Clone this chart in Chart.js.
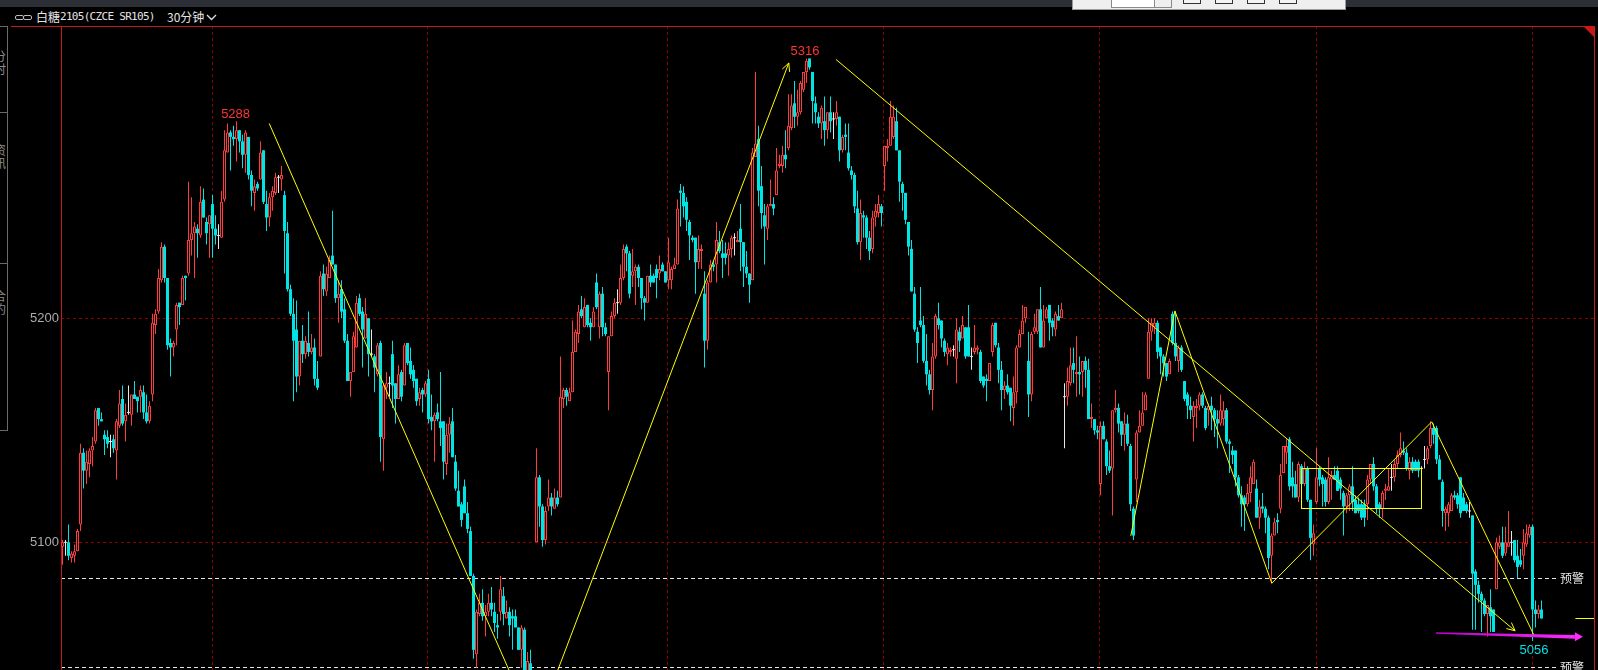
<!DOCTYPE html>
<html>
<head>
<meta charset="utf-8">
<script src="https://cdn.jsdelivr.net/npm/chart.js@4.4.1/dist/chart.umd.min.js"></script>
<style>
  html, body { margin: 0; padding: 0; background: #000; }
  body { width: 1598px; height: 670px; overflow: hidden; position: relative; font-family: 'Noto Sans CJK SC', sans-serif; }
  #topbar { position: absolute; left: 0; top: 0; width: 1598px; height: 7px; background: #2c2f35; }
  #dlg { position: absolute; left: 1072px; top: 0; width: 272px; height: 9px; background: #efefef; border: 1px solid #9a9a9a; border-top: none; }
  .dbtn { position: absolute; top: -1px; width: 16px; height: 3px; border: 1px solid #333; background: #f4f4f4; }
  #title { position: absolute; left: 0; top: 7px; width: 600px; height: 19px; color: #e4e4e4; }
  #title span { position: absolute; white-space: nowrap; }
  .lnk { position: absolute; top: 8px; width: 7px; height: 3px; border: 1px solid #bdbdbd; border-radius: 2px; }
  .side { position: absolute; left: 0; width: 8px; border: 1px solid #6a6a6a; border-left: none; box-sizing: border-box; overflow: hidden; }
  .side div { position: absolute; left: -6px; width: 13px; font-size: 12px; line-height: 13px; color: #8c8c8c; }
  #kline { position: absolute; left: 0; top: 26px; }
</style>
</head>
<body>
<div id="topbar"></div>
<div id="dlg">
  <div style="position:absolute;left:38px;top:-1px;width:42px;height:7px;background:#fff;border:1px solid #8a8a8a"></div>
  <div style="position:absolute;left:81px;top:-1px;width:16px;height:7px;border:1px solid #8a8a8a"></div>
  <div class="dbtn" style="left:110px"></div>
  <div class="dbtn" style="left:142px"></div>
  <div class="dbtn" style="left:174px"></div>
  <div class="dbtn" style="left:206px"></div>
</div>
<div id="title">
  <div class="lnk" style="left:15px"></div>
  <div class="lnk" style="left:23px"></div>
  <span style="left:36px;top:3px;font-size:12px;line-height:13px">白糖</span>
  <span style="left:60px;top:3px;font:11px/13px 'DejaVu Sans Mono';letter-spacing:-0.7px">2105(CZCE SR105)</span>
  <span style="left:167px;top:3px;font-size:12px;line-height:13px">30分钟</span>
  <svg style="position:absolute;left:206px;top:7px" width="11" height="7"><polyline points="1,1 5.5,5.5 10,1" stroke="#dcdcdc" stroke-width="1.4" fill="none"/></svg>
</div>
<div class="side" style="top:26px;height:87px"><div style="top:22px">分时</div></div>
<div class="side" style="top:112px;height:152px"><div style="top:30px">资讯</div></div>
<div class="side" style="top:263px;height:168px"><div style="top:25px">合约</div></div>
<canvas id="kline" width="1598" height="644"></canvas>
<script>
// 白糖2105 30分钟 K线（自左向右，共494根）
const opens = [
  5098,5100,5100,5093,5094,5096,5108,5140,5132,5135,
  5141,5145,5160,5155,5148,5147,5145,5146,5141,5152,
  5164,5154,5158,5157,5166,5165,5165,5167,5158,5154,
  5166,5197,5203,5217,5232,5218,5189,5187,5195,5207,
  5206,5219,5220,5235,5238,5240,5237,5253,5243,5242,
  5251,5240,5237,5236,5253,5274,5283,5281,5280,5284,
  5279,5273,5281,5264,5256,5260,5262,5275,5251,5245,
  5254,5256,5263,5262,5255,5238,5213,5202,5195,5174,
  5190,5184,5189,5185,5187,5173,5183,5220,5212,5218,
  5228,5224,5209,5213,5204,5190,5172,5176,5187,5209,
  5203,5191,5200,5184,5183,5175,5189,5146,5169,5171,
  5184,5171,5164,5176,5170,5189,5181,5177,5173,5164,
  5168,5166,5173,5156,5154,5158,5154,5154,5135,5148,
  5154,5136,5123,5117,5125,5113,5105,5085,5050,5068,
  5073,5067,5069,5073,5069,5063,5069,5076,5066,5069,
  5067,5067,5062,5052,5061,5036,5046,5039,5100,5129,
  5116,5101,5116,5120,5115,5120,5120,5164,5168,5163,
  5167,5185,5193,5204,5196,5206,5198,5196,5216,5196,
  5211,5196,5176,5192,5201,5207,5207,5218,5232,5229,
  5219,5221,5223,5218,5209,5207,5219,5219,5222,5220,
  5224,5221,5217,5217,5222,5224,5257,5256,5252,5243,
  5236,5236,5225,5230,5211,5190,5216,5224,5224,5234,
  5229,5229,5228,5231,5236,5234,5240,5234,5223,5220,
  5217,5272,5280,5259,5246,5240,5250,5251,5255,5268,
  5268,5273,5276,5285,5296,5290,5292,5302,5310,5316,
  5310,5296,5290,5287,5288,5284,5292,5289,5289,5290,
  5275,5282,5274,5266,5264,5249,5234,5246,5245,5236,
  5231,5245,5247,5250,5268,5276,5277,5281,5288,5275,
  5260,5256,5243,5231,5211,5194,5199,5197,5181,5175,
  5168,5183,5200,5199,5190,5184,5185,5186,5182,5194,
  5191,5196,5196,5183,5185,5186,5185,5174,5173,5172,
  5185,5198,5187,5177,5168,5170,5169,5160,5167,5187,
  5193,5200,5181,5166,5194,5194,5204,5187,5200,5206,
  5199,5195,5201,5200,5165,5165,5171,5180,5175,5176,
  5176,5181,5177,5155,5155,5150,5126,5152,5145,5134,
  5133,5159,5160,5154,5148,5153,5143,5115,5128,5149,
  5152,5159,5173,5194,5196,5198,5187,5183,5180,5175,
  5202,5189,5181,5187,5172,5166,5161,5156,5160,5161,
  5166,5160,5159,5161,5159,5155,5153,5155,5159,5145,
  5141,5141,5129,5121,5120,5117,5122,5126,5124,5111,
  5116,5115,5111,5094,5103,5110,5115,5131,5140,5146,
  5129,5126,5120,5134,5126,5133,5119,5099,5118,5133,
  5129,5128,5118,5128,5130,5132,5128,5122,5116,5121,
  5125,5119,5117,5117,5117,5117,5128,5135,5125,5117,
  5115,5123,5123,5129,5129,5135,5139,5141,5140,5132,
  5136,5136,5136,5133,5137,5137,5143,5151,5151,5137,
  5127,5113,5113,5114,5121,5121,5129,5120,5117,5114,
  5112,5087,5081,5077,5074,5068,5071,5070,5079,5098,
  5100,5095,5098,5100,5101,5094,5092,5094,5099,5103,
  5107,5070,5068,5070
];
const highs = [
  5101,5101,5108,5096,5099,5106,5144,5142,5141,5142,
  5147,5160,5160,5158,5150,5150,5148,5148,5155,5168,
  5170,5162,5170,5166,5172,5165,5170,5170,5166,5163,
  5202,5204,5222,5234,5233,5218,5191,5190,5207,5207,
  5219,5219,5261,5254,5243,5242,5259,5258,5245,5246,
  5255,5246,5242,5257,5284,5287,5284,5286,5288,5284,
  5282,5284,5281,5266,5262,5261,5279,5275,5257,5256,
  5259,5265,5264,5268,5257,5243,5215,5209,5208,5190,
  5197,5192,5203,5193,5191,5181,5221,5224,5223,5228,
  5248,5224,5217,5217,5209,5193,5176,5194,5210,5211,
  5205,5209,5200,5195,5184,5189,5190,5171,5176,5174,
  5190,5171,5179,5177,5189,5189,5187,5179,5173,5169,
  5169,5172,5177,5166,5158,5162,5176,5154,5153,5156,
  5160,5139,5132,5118,5128,5118,5107,5086,5070,5077,
  5079,5072,5077,5080,5073,5068,5085,5080,5074,5071,
  5070,5070,5062,5063,5062,5051,5052,5041,5142,5130,
  5117,5116,5128,5122,5124,5123,5183,5169,5169,5169,
  5199,5195,5206,5210,5209,5206,5200,5205,5220,5212,
  5214,5198,5192,5203,5209,5213,5224,5233,5233,5230,
  5231,5224,5224,5218,5210,5219,5224,5220,5224,5228,
  5225,5221,5236,5223,5227,5253,5260,5259,5254,5244,
  5237,5236,5237,5233,5221,5217,5226,5226,5243,5239,
  5235,5234,5234,5237,5238,5239,5251,5234,5230,5220,
  5276,5310,5286,5268,5251,5251,5262,5254,5276,5273,
  5277,5284,5300,5300,5306,5302,5306,5310,5316,5316,
  5310,5299,5292,5295,5299,5292,5299,5292,5297,5290,
  5282,5287,5287,5268,5265,5257,5253,5248,5246,5239,
  5248,5251,5255,5251,5277,5280,5297,5295,5294,5275,
  5261,5256,5243,5235,5214,5196,5214,5201,5193,5177,
  5189,5202,5207,5199,5191,5189,5187,5188,5200,5196,
  5201,5196,5206,5187,5197,5188,5186,5174,5175,5180,
  5198,5198,5189,5181,5172,5175,5169,5174,5188,5195,
  5206,5205,5194,5194,5202,5204,5214,5206,5205,5206,
  5200,5203,5206,5207,5171,5178,5187,5187,5192,5183,
  5181,5183,5182,5162,5155,5152,5154,5154,5146,5141,
  5159,5168,5162,5154,5158,5157,5144,5116,5150,5159,
  5167,5167,5200,5200,5200,5199,5187,5184,5180,5182,
  5203,5203,5188,5188,5172,5167,5165,5163,5164,5167,
  5167,5161,5162,5165,5160,5159,5166,5163,5160,5146,
  5143,5141,5130,5125,5121,5126,5134,5137,5128,5119,
  5122,5116,5112,5104,5111,5113,5135,5143,5146,5147,
  5136,5132,5136,5135,5136,5134,5119,5108,5142,5134,
  5130,5129,5138,5132,5134,5134,5129,5123,5122,5126,
  5134,5121,5120,5119,5119,5130,5135,5138,5126,5118,
  5123,5126,5133,5135,5137,5141,5149,5145,5142,5138,
  5138,5137,5137,5134,5143,5143,5154,5153,5152,5139,
  5128,5116,5118,5122,5123,5122,5129,5122,5118,5118,
  5112,5088,5083,5078,5075,5072,5079,5070,5102,5103,
  5107,5107,5114,5105,5101,5101,5097,5106,5108,5108,
  5108,5074,5072,5074
];
const lows = [
  5090,5094,5092,5091,5091,5096,5105,5124,5126,5129,
  5134,5144,5152,5154,5139,5142,5138,5140,5128,5151,
  5152,5145,5157,5152,5164,5158,5158,5155,5153,5153,
  5163,5193,5202,5216,5216,5186,5174,5183,5188,5197,
  5206,5208,5219,5228,5218,5227,5236,5245,5233,5227,
  5227,5233,5231,5236,5252,5274,5266,5277,5270,5274,
  5267,5265,5262,5250,5248,5257,5262,5251,5239,5241,
  5248,5255,5256,5257,5220,5212,5201,5163,5167,5170,
  5180,5182,5183,5184,5170,5168,5183,5210,5210,5218,
  5224,5207,5198,5200,5189,5172,5165,5176,5187,5201,
  5178,5191,5174,5183,5167,5174,5136,5132,5164,5165,
  5160,5153,5164,5163,5170,5179,5173,5169,5161,5161,
  5158,5165,5153,5150,5136,5154,5143,5128,5130,5140,
  5138,5123,5116,5107,5113,5104,5085,5048,5044,5067,
  5065,5058,5067,5067,5060,5057,5065,5063,5066,5058,
  5052,5062,5052,5044,5035,5032,5033,5030,5100,5107,
  5098,5099,5114,5112,5115,5116,5120,5160,5161,5163,
  5167,5185,5189,5200,5196,5196,5190,5196,5204,5191,
  5192,5192,5159,5192,5200,5202,5206,5217,5221,5209,
  5214,5206,5214,5204,5199,5207,5214,5216,5209,5217,
  5221,5216,5213,5213,5222,5224,5241,5245,5239,5226,
  5234,5211,5222,5222,5178,5186,5216,5221,5216,5229,
  5218,5224,5219,5227,5228,5234,5221,5214,5218,5207,
  5217,5272,5250,5240,5224,5235,5250,5246,5255,5267,
  5265,5267,5275,5284,5285,5286,5291,5301,5305,5311,
  5287,5287,5285,5280,5277,5280,5283,5280,5286,5270,
  5274,5275,5266,5262,5247,5233,5226,5236,5231,5226,
  5229,5241,5245,5241,5257,5270,5277,5280,5275,5252,
  5248,5242,5228,5212,5194,5180,5196,5180,5170,5166,
  5159,5182,5195,5187,5183,5179,5183,5183,5171,5185,
  5191,5182,5183,5177,5184,5184,5171,5169,5163,5172,
  5183,5187,5171,5159,5164,5166,5154,5152,5162,5187,
  5193,5198,5156,5163,5193,5193,5187,5187,5200,5190,
  5192,5192,5199,5200,5142,5161,5170,5171,5165,5166,
  5165,5169,5155,5151,5148,5146,5121,5146,5130,5131,
  5112,5158,5149,5143,5141,5143,5114,5101,5118,5149,
  5152,5159,5173,5190,5193,5182,5175,5174,5172,5175,
  5188,5181,5176,5176,5163,5155,5155,5145,5151,5159,
  5160,5150,5152,5150,5147,5142,5152,5152,5144,5131,
  5135,5125,5120,5107,5105,5116,5118,5126,5111,5106,
  5113,5104,5088,5082,5103,5104,5113,5131,5135,5123,
  5120,5120,5118,5125,5125,5118,5092,5094,5117,5125,
  5116,5116,5117,5119,5128,5123,5119,5103,5113,5114,
  5114,5113,5113,5110,5107,5110,5126,5123,5113,5111,
  5111,5119,5123,5123,5127,5133,5138,5139,5132,5128,
  5131,5132,5129,5126,5133,5135,5142,5144,5135,5128,
  5107,5105,5107,5114,5119,5115,5111,5114,5113,5111,
  5061,5061,5073,5060,5067,5058,5060,5060,5079,5097,
  5093,5094,5098,5094,5091,5084,5089,5088,5098,5102,
  5056,5062,5066,5066
];
const closes = [
  5100,5100,5094,5095,5096,5105,5140,5132,5136,5141,
  5143,5159,5155,5154,5146,5144,5145,5142,5154,5162,
  5153,5157,5158,5166,5164,5163,5168,5158,5154,5161,
  5198,5202,5218,5232,5218,5188,5187,5189,5206,5205,
  5218,5218,5235,5238,5241,5238,5252,5245,5238,5246,
  5240,5237,5237,5252,5275,5283,5281,5280,5284,5279,
  5273,5283,5264,5257,5259,5258,5274,5252,5245,5254,
  5257,5263,5263,5264,5239,5213,5202,5190,5174,5190,
  5184,5190,5185,5187,5173,5169,5219,5213,5220,5226,
  5224,5209,5211,5203,5190,5172,5176,5192,5207,5202,
  5195,5202,5184,5184,5178,5188,5147,5170,5171,5171,
  5170,5164,5175,5165,5188,5180,5175,5172,5163,5167,
  5166,5171,5155,5154,5157,5155,5151,5136,5148,5153,
  5138,5124,5116,5110,5113,5106,5085,5052,5069,5073,
  5067,5069,5073,5070,5064,5062,5079,5068,5069,5063,
  5066,5062,5052,5062,5040,5047,5038,5036,5129,5116,
  5101,5114,5120,5116,5120,5117,5165,5168,5165,5167,
  5185,5194,5203,5201,5205,5197,5196,5203,5205,5211,
  5196,5193,5192,5201,5207,5207,5218,5231,5229,5211,
  5221,5223,5218,5209,5207,5219,5216,5216,5218,5222,
  5221,5216,5225,5222,5224,5249,5256,5250,5244,5237,
  5235,5225,5231,5231,5190,5216,5224,5223,5235,5230,
  5227,5227,5231,5236,5236,5235,5234,5223,5220,5215,
  5274,5278,5257,5247,5241,5250,5251,5249,5266,5269,
  5273,5271,5286,5295,5290,5292,5305,5310,5315,5312,
  5297,5292,5287,5294,5284,5292,5288,5289,5292,5275,
  5281,5281,5267,5264,5250,5234,5247,5245,5236,5230,
  5245,5248,5251,5247,5277,5277,5290,5290,5275,5261,
  5256,5244,5232,5212,5195,5189,5197,5181,5175,5168,
  5183,5201,5197,5191,5185,5187,5186,5186,5195,5190,
  5197,5183,5183,5183,5187,5187,5172,5170,5172,5180,
  5197,5188,5177,5168,5170,5167,5161,5167,5187,5193,
  5199,5205,5166,5193,5196,5204,5187,5199,5204,5198,
  5196,5202,5199,5204,5165,5172,5179,5177,5176,5175,
  5181,5177,5155,5156,5150,5149,5152,5146,5134,5132,
  5159,5160,5153,5148,5153,5144,5117,5103,5149,5152,
  5158,5166,5194,5198,5198,5185,5183,5180,5174,5181,
  5189,5183,5187,5177,5164,5161,5159,5161,5161,5166,
  5161,5151,5161,5159,5155,5153,5159,5159,5145,5144,
  5139,5129,5121,5117,5117,5122,5129,5136,5111,5116,
  5115,5111,5093,5103,5109,5109,5130,5143,5143,5125,
  5125,5120,5135,5126,5133,5119,5102,5104,5129,5128,
  5126,5118,5129,5130,5128,5123,5124,5116,5121,5125,
  5118,5113,5114,5111,5111,5128,5135,5125,5115,5115,
  5122,5124,5125,5129,5135,5139,5142,5140,5133,5136,
  5132,5132,5132,5133,5137,5142,5151,5148,5137,5128,
  5114,5115,5117,5121,5120,5117,5113,5114,5114,5114,
  5086,5081,5077,5074,5068,5072,5067,5060,5100,5100,
  5094,5100,5100,5100,5092,5089,5090,5100,5104,5107,
  5070,5068,5070,5066
];

// 坐标轴
const slotCount = 511;               // 右侧留白，最后一根K线后还有空位
const yTicks = [5100, 5200];
const yMin = 5043, yMax = 5330.5;
const dayBreaks = [49.7, 121.6, 201.6, 273.6, 345.6, 417.7, 489.7];

// 画线（K线序号, 价格）
const alertLevels = [5084, 5044.4];
const trendDown1 = [[68.9, 5287], [157, 5018]];
const trendUp1 = [[160, 5025], [242.1, 5314]];
const trendDown2 = [[257.8, 5315.6], [484.2, 5060.5]];
const zigzag = [[356.1, 5102.9], [370.8, 5203.3], [403.1, 5081.7], [456.4, 5153.8], [490.6, 5058.2]];
const boxZone = [[412.8, 5133.3], [452.9, 5115.6]];
const magentaArrow = [[457.8, 5059.5], [506.8, 5057.8]];
const lastMarkFrom = 504.3;
const peakLabels = [
  { idx: 57.7, price: 5288, text: '5288', color: '#ff3333', above: true },
  { idx: 247.5, price: 5316, text: '5316', color: '#ff3333', above: true },
  { idx: 490.5, price: 5056, text: '5056', color: '#00e0e0', above: false }
];

const UP = '#ff3c3c', DOWN = '#00e4e4', FLAT = '#e8e8e8';
const slots = Array.from({ length: slotCount }, (_, i) => String(i));
const kind = opens.map((o, i) => closes[i] > o ? 1 : (closes[i] < o ? -1 : 0));
const candleColor = kind.map(k => k > 0 ? UP : (k < 0 ? DOWN : FLAT));

const wickData = lows.map((l, i) => [l, highs[i]]);
const bodyData = opens.map((o, i) => {
  const c = closes[i];
  if (o === c) return [o - 0.22, o + 0.22];
  return [Math.min(o, c), Math.max(o, c)];
});

const framePlugin = {
  id: 'frame',
  beforeDatasetsDraw(chart) {
    const { ctx, chartArea: a, scales: { x, y } } = chart;
    ctx.save();
    // 网格
    ctx.strokeStyle = '#8c0000';
    ctx.lineWidth = 1;
    ctx.setLineDash([3, 3]);
    yTicks.forEach(v => {
      const py = Math.round(y.getPixelForValue(v)) + 0.5;
      ctx.beginPath(); ctx.moveTo(a.left, py); ctx.lineTo(a.right, py); ctx.stroke();
    });
    dayBreaks.forEach(v => {
      const px = Math.round(x.getPixelForValue(v)) + 0.5;
      ctx.beginPath(); ctx.moveTo(px, a.top); ctx.lineTo(px, a.bottom); ctx.stroke();
    });
    // 预警线
    ctx.strokeStyle = '#e6e6e6';
    ctx.setLineDash([4, 3]);
    alertLevels.forEach(v => {
      const py = Math.round(y.getPixelForValue(v)) + 0.5;
      ctx.beginPath(); ctx.moveTo(a.left, py); ctx.lineTo(1559, py); ctx.stroke();
    });
    ctx.setLineDash([]);
    // 边框
    ctx.fillStyle = '#c81818';
    ctx.fillRect(11, 0, 1584, 1);
    ctx.fillRect(61, 0, 1, a.bottom);
    ctx.fillRect(1594, 0, 1, a.bottom);
    ctx.beginPath(); ctx.moveTo(1584, 1); ctx.lineTo(1594, 1); ctx.lineTo(1594, 11); ctx.closePath(); ctx.fill();
    ctx.restore();
  },
  afterDatasetsDraw(chart) {
    const { ctx, chartArea: a, scales: { x, y } } = chart;
    const P = p => [x.getPixelForValue(p[0]), y.getPixelForValue(p[1])];
    ctx.save();
    ctx.beginPath(); ctx.rect(a.left, a.top, a.right - a.left, a.bottom - a.top); ctx.clip();

    ctx.strokeStyle = '#ffff00';
    ctx.lineWidth = 1;
    const poly = pts => {
      ctx.beginPath();
      pts.forEach((p, i) => { const [px, py] = P(p); i ? ctx.lineTo(px, py) : ctx.moveTo(px, py); });
      ctx.stroke();
    };
    const head = (p0, p1) => {
      const [x0, y0] = P(p0), [x1, y1] = P(p1);
      const ang = Math.atan2(y1 - y0, x1 - x0), len = 9, spread = 0.45;
      ctx.beginPath();
      ctx.moveTo(x1 - len * Math.cos(ang - spread), y1 - len * Math.sin(ang - spread));
      ctx.lineTo(x1, y1);
      ctx.lineTo(x1 - len * Math.cos(ang + spread), y1 - len * Math.sin(ang + spread));
      ctx.stroke();
    };
    poly(trendDown1);
    poly(trendUp1); head(trendUp1[0], trendUp1[1]);
    poly(trendDown2); head(trendDown2[0], trendDown2[1]);
    poly(zigzag);
    const [bx0, by0] = P(boxZone[0]), [bx1, by1] = P(boxZone[1]);
    ctx.strokeRect(Math.round(bx0) + 0.5, Math.round(by0) + 0.5, Math.round(bx1 - bx0), Math.round(by1 - by0));

    // 最新价标记
    const lastY = Math.round(y.getPixelForValue(closes[closes.length - 1])) + 0.5;
    ctx.beginPath(); ctx.moveTo(x.getPixelForValue(lastMarkFrom), lastY); ctx.lineTo(a.right, lastY); ctx.stroke();

    // 紫色箭头
    const [mx0, my0] = P(magentaArrow[0]), [mx1, my1] = P(magentaArrow[1]);
    const sx = mx1 - 8;
    const g = ctx.createLinearGradient(mx0, 0, mx1, 0);
    g.addColorStop(0, '#b800c8');
    g.addColorStop(1, '#ff2cff');
    ctx.fillStyle = g;
    ctx.beginPath();
    ctx.moveTo(mx0, my0 - 0.7); ctx.lineTo(sx, my1 - 1.8); ctx.lineTo(sx, my1 + 1.8); ctx.lineTo(mx0, my0 + 0.7);
    ctx.closePath(); ctx.fill();
    ctx.beginPath(); ctx.moveTo(sx, my1 - 4.5); ctx.lineTo(mx1, my1); ctx.lineTo(sx, my1 + 4.5); ctx.closePath(); ctx.fill();

    // 高低点标注
    ctx.font = '13px "Liberation Sans"';
    ctx.textAlign = 'center';
    peakLabels.forEach(l => {
      ctx.fillStyle = l.color;
      const px = x.getPixelForValue(l.idx), py = y.getPixelForValue(l.price);
      if (l.above) { ctx.textBaseline = 'alphabetic'; ctx.fillText(l.text, px, py - 3); }
      else { ctx.textBaseline = 'top'; ctx.fillText(l.text, px, py + 3); }
    });

    // 预警文字
    ctx.font = '12px "Noto Sans CJK SC"';
    ctx.textAlign = 'left';
    ctx.textBaseline = 'middle';
    ctx.fillStyle = '#e8e8e8';
    alertLevels.forEach(v => ctx.fillText('预警', 1560, y.getPixelForValue(v) + 0.5));
    ctx.restore();
  }
};

new Chart(document.getElementById('kline'), {
  type: 'bar',
  data: {
    labels: slots,
    datasets: [
      {
        data: wickData, order: 2, grouped: false, barThickness: 1,
        backgroundColor: candleColor, borderWidth: 0, inflateAmount: 0
      },
      {
        data: bodyData, order: 1, grouped: false, barThickness: 3,
        backgroundColor: kind.map(k => k > 0 ? '#000000' : (k < 0 ? DOWN : FLAT)),
        borderColor: candleColor,
        borderWidth: kind.map(k => k > 0 ? 1 : 0),
        borderSkipped: false, inflateAmount: 0
      }
    ]
  },
  options: {
    responsive: false,
    animation: false,
    devicePixelRatio: 1,
    events: [],
    layout: { padding: { left: 0, right: 4, top: 0, bottom: 0 } },
    plugins: { legend: { display: false }, tooltip: { enabled: false } },
    scales: {
      x: { type: 'category', display: false, offset: true, grid: { display: false } },
      y: {
        position: 'left', min: yMin, max: yMax, bounds: 'data',
        afterFit: s => { s.width = 61; s.paddingTop = 0; s.paddingBottom = 0; },
        afterBuildTicks: s => { s.ticks = yTicks.map(v => ({ value: v })); },
        grid: { display: false, drawTicks: false },
        border: { display: false },
        ticks: {
          color: '#ababab', padding: 2,
          font: { family: 'Liberation Sans', size: 13 },
          callback: v => String(v)
        }
      }
    }
  },
  plugins: [framePlugin]
});
</script>
</body>
</html>
